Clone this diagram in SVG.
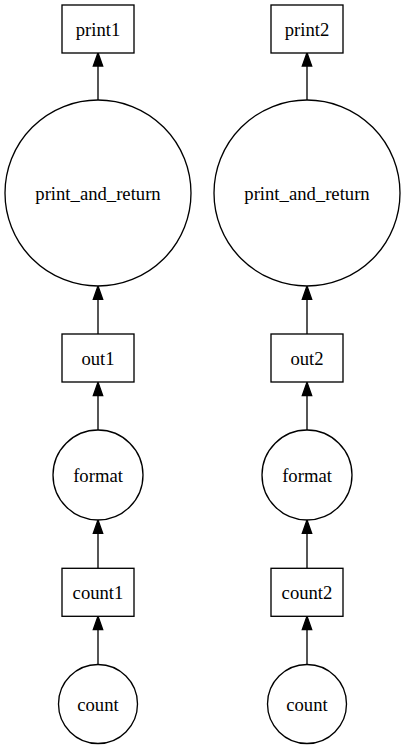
<svg xmlns="http://www.w3.org/2000/svg" width="405" height="749" viewBox="0 0 405 749">
<defs>
<style>
.n rect, .n circle { fill: #fff; stroke: #000; stroke-width: 1.33; }
.n text { font-family: "Liberation Serif", "Times New Roman", serif; font-size: 18.67px; text-anchor: middle; fill: #000; }
.e line { stroke: #000; stroke-width: 1.33; }
.e polygon { fill: #000; stroke: #000; stroke-width: 1.33; }
</style>
</defs>
<rect x="0" y="0" width="405" height="749" fill="#fff"/>
<g id="connectors" class="e">
  <line x1="98" y1="664.5" x2="98" y2="629.6"/><polygon points="98,616.3 93.3,629.6 102.7,629.6"/>
  <line x1="98" y1="568.3" x2="98" y2="533.3"/><polygon points="98,520 93.3,533.3 102.7,533.3"/>
  <line x1="98" y1="430" x2="98" y2="395.6"/><polygon points="98,382.3 93.3,395.6 102.7,395.6"/>
  <line x1="98" y1="334" x2="98" y2="299.3"/><polygon points="98,286 93.3,299.3 102.7,299.3"/>
  <line x1="98" y1="100" x2="98" y2="66"/><polygon points="98,52.7 93.3,66 102.7,66"/>
  <line x1="307" y1="664.5" x2="307" y2="629.6"/><polygon points="307,616.3 302.3,629.6 311.7,629.6"/>
  <line x1="307" y1="568.3" x2="307" y2="533.3"/><polygon points="307,520 302.3,533.3 311.7,533.3"/>
  <line x1="307" y1="430" x2="307" y2="395.6"/><polygon points="307,382.3 302.3,395.6 311.7,395.6"/>
  <line x1="307" y1="334" x2="307" y2="299.3"/><polygon points="307,286 302.3,299.3 311.7,299.3"/>
  <line x1="307" y1="100" x2="307" y2="66"/><polygon points="307,52.7 302.3,66 311.7,66"/>
</g>
<g id="print1" class="n"><rect x="62" y="5" width="72" height="48"/><text x="98" y="35.5">print1</text></g>
<g id="print_and_return1" class="n"><circle cx="98" cy="193" r="93"/><text x="98" y="199.5">print_and_return</text></g>
<g id="out1" class="n"><rect x="62" y="334" width="72" height="48"/><text x="98" y="364.5">out1</text></g>
<g id="format1" class="n"><circle cx="98" cy="475" r="45"/><text x="98" y="481.5">format</text></g>
<g id="count1" class="n"><rect x="62" y="568.3" width="72" height="48"/><text x="98" y="598.5">count1</text></g>
<g id="countA" class="n"><circle cx="98" cy="704" r="39.5"/><text x="98" y="710.5">count</text></g>
<g id="print2" class="n"><rect x="271" y="5" width="72" height="48"/><text x="307" y="35.5">print2</text></g>
<g id="print_and_return2" class="n"><circle cx="307" cy="193" r="93"/><text x="307" y="199.5">print_and_return</text></g>
<g id="out2" class="n"><rect x="271" y="334" width="72" height="48"/><text x="307" y="364.5">out2</text></g>
<g id="format2" class="n"><circle cx="307" cy="475" r="45"/><text x="307" y="481.5">format</text></g>
<g id="count2" class="n"><rect x="271" y="568.3" width="72" height="48"/><text x="307" y="598.5">count2</text></g>
<g id="countB" class="n"><circle cx="307" cy="704" r="39.5"/><text x="307" y="710.5">count</text></g>
</svg>
